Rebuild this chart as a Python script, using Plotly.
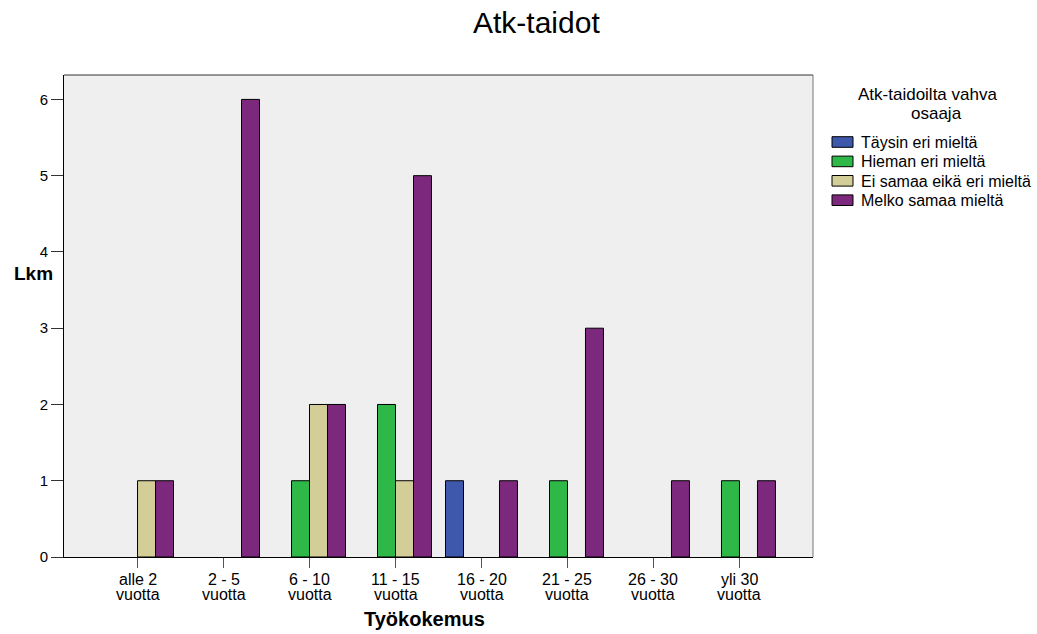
import plotly.graph_objects as go

# Työkokemus-luokat (x-akseli), kaksi riviä kutakin
categories = ["alle 2", "2 - 5", "6 - 10", "11 - 15", "16 - 20", "21 - 25", "26 - 30", "yli 30"]
category_second_line = ["vuotta"] * 8

# Vastausten lukumäärät kategorioittain
taysin_eri = [0, 0, 0, 0, 1, 0, 0, 0]
hieman_eri = [0, 0, 1, 2, 0, 1, 0, 1]
ei_samaa_eika_eri = [1, 0, 2, 1, 0, 0, 0, 0]
melko_samaa = [1, 6, 2, 5, 1, 3, 1, 1]

series_names = ["Täysin eri mieltä", "Hieman eri mieltä", "Ei samaa eikä eri mieltä", "Melko samaa mieltä"]
series_values = [taysin_eri, hieman_eri, ei_samaa_eika_eri, melko_samaa]
series_colors = ["#3E58AC", "#2EB848", "#D3CE97", "#7C287D"]

y_ticks = [0, 1, 2, 3, 4, 5, 6]

FONT = "Liberation Sans, Arial, sans-serif"

W, H = 1037, 634
L, R, T, B = 64, 224, 75, 77
PW, PH = W - L - R, H - T - B


def px_x(px):
    return (px - L) / PW


def px_y(py):
    return (H - B - py) / PH


fig = go.Figure()
for name, vals, col in zip(series_names, series_values, series_colors):
    fig.add_trace(go.Bar(
        x=categories, y=vals, name=name, showlegend=False,
        marker=dict(color=col,
                    line=dict(color="#000000", width=[1 if v > 0 else 0 for v in vals])),
    ))

fig.update_layout(
    width=W, height=H,
    margin=dict(l=L, r=R, t=T, b=B, pad=0),
    barmode="group", bargap=0.163, bargroupgap=0,
    paper_bgcolor="#FFFFFF", plot_bgcolor="#EFEFEF",
    font=dict(family=FONT, size=15, color="#000000"),
    xaxis=dict(
        range=[-0.855, 7.855], showgrid=False, zeroline=False,
        showline=True, linecolor="#000000", linewidth=1,
        ticks="outside", ticklen=10, tickcolor="#555555",
        showticklabels=False, automargin=False,
    ),
    yaxis=dict(
        range=[0, 6.32], tickvals=y_ticks, showgrid=False, zeroline=False,
        showline=True, linecolor="#000000", linewidth=1,
        ticks="outside", ticklen=12, tickcolor="#333333",
        tickfont=dict(size=15, family=FONT), automargin=False,
    ),
    showlegend=False,
)

# Kuvaajan kehys: yläreuna tumma, oikea reuna harmaa
fig.add_shape(type="line", xref="paper", yref="paper", x0=0, y0=1, x1=1, y1=1,
              line=dict(color="#333333", width=1), layer="above")
fig.add_shape(type="line", xref="paper", yref="paper", x0=1, y0=0, x1=1, y1=1,
              line=dict(color="#777777", width=1), layer="above")

# X-akselin luokkanimet kahdella tiiviillä rivillä
for cat, second in zip(categories, category_second_line):
    fig.add_annotation(text=cat, xref="x", yref="paper", x=cat, y=px_y(579),
                       xanchor="center", yanchor="middle", showarrow=False,
                       font=dict(size=16, family=FONT))
    fig.add_annotation(text=second, xref="x", yref="paper", x=cat, y=px_y(594),
                       xanchor="center", yanchor="middle", showarrow=False,
                       font=dict(size=16, family=FONT))

# Otsikko ja akselien nimet
fig.add_annotation(text="Atk-taidot", xref="paper", yref="paper",
                   x=px_x(536.5), y=px_y(22.5), xanchor="center", yanchor="middle",
                   showarrow=False, font=dict(size=30, family=FONT))
fig.add_annotation(text="<b>Työkokemus</b>", xref="paper", yref="paper",
                   x=px_x(424.5), y=px_y(619), xanchor="center", yanchor="middle",
                   showarrow=False, font=dict(size=20, family=FONT))
fig.add_annotation(text="<b>Lkm</b>", xref="paper", yref="paper",
                   x=px_x(33), y=px_y(273), xanchor="center", yanchor="middle",
                   showarrow=False, font=dict(size=19, family=FONT))

# Selite
fig.add_annotation(text="Atk-taidoilta vahva", xref="paper", yref="paper",
                   x=px_x(927), y=px_y(95), xanchor="center", yanchor="middle",
                   showarrow=False, font=dict(size=17, family=FONT))
fig.add_annotation(text="osaaja", xref="paper", yref="paper",
                   x=px_x(936), y=px_y(113), xanchor="center", yanchor="middle",
                   showarrow=False, font=dict(size=17, family=FONT))
for i, (name, col) in enumerate(zip(series_names, series_colors)):
    top = 136.7 + 19.4 * i
    fig.add_shape(type="rect", xref="paper", yref="paper",
                  x0=px_x(832), x1=px_x(853), y0=px_y(top + 10.6), y1=px_y(top),
                  fillcolor=col, line=dict(color="#000000", width=1))
    fig.add_annotation(text=name, xref="paper", yref="paper",
                       x=px_x(859), y=px_y(top + 5.5), xanchor="left", yanchor="middle",
                       showarrow=False, font=dict(size=16, family=FONT))

fig.write_html("out.html")
